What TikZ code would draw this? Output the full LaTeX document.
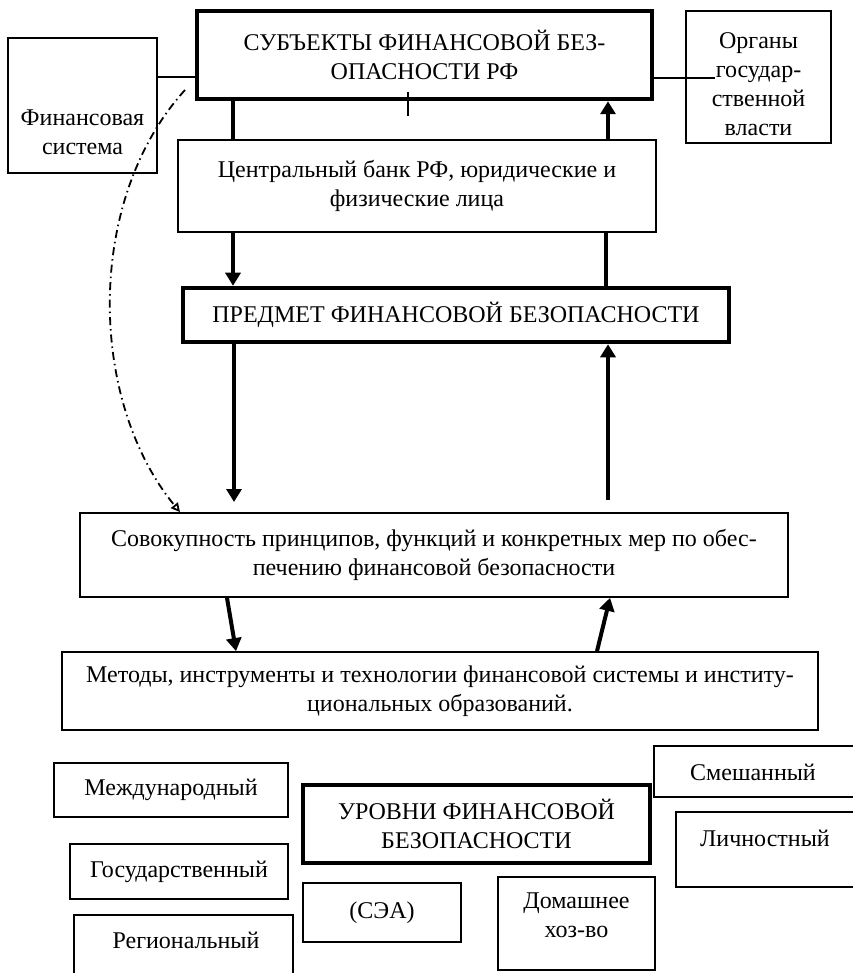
\documentclass[tikz,border=0pt]{standalone}
\usepackage{fontspec}
\setmainfont{Liberation Serif}
\usetikzlibrary{arrows.meta}
\begin{document}
\begin{tikzpicture}[x=1pt,y=-1pt,
  box/.style={draw, line width=1.8pt, inner sep=0pt, align=center, font=\fontsize{24}{29}\selectfont},
  boldbox/.style={box, line width=4.5pt},
  txt/.style={inner sep=0pt, align=center, font=\fontsize{24}{29}\selectfont},
  flow/.style={line width=4pt, -{Triangle[length=13pt,width=15pt]}},
  bar/.style={line width=4pt},
  link/.style={line width=1.5pt},
  loop/.style={line width=1.8pt, dash pattern=on 8pt off 4pt on 1.5pt off 4pt, -{Triangle[open, length=9pt, width=9pt]}}
]
\useasboundingbox (0,0) rectangle (852,973);

% upper chain
\node[boldbox, minimum width=455pt, minimum height=88pt] (subj) at (424.5,55) {СУБЪЕКТЫ ФИНАНСОВОЙ БЕЗ-\\ОПАСНОСТИ РФ};
\node[box, minimum width=149pt, minimum height=135pt] (fin) at (82.5,105.5) {};
\node[txt] (fin-t) at (82.5,132) {Финансовая\\система};
\node[box, minimum width=145pt, minimum height=132pt] (org) at (758.5,77) {};
\node[txt] (org-t) at (758.5,84) {Органы\\государ-\\ственной\\власти};
\node[box, minimum width=478pt, minimum height=92pt] (cb) at (417,186) {Центральный банк РФ, юридические и\\физические лица};
\node[boldbox, minimum width=546pt, minimum height=54pt] (pred) at (456,315) {ПРЕДМЕТ ФИНАНСОВОЙ БЕЗОПАСНОСТИ};
\node[box, minimum width=708pt, minimum height=84pt] (sov) at (434,555) {Совокупность принципов, функций и конкретных мер по обес-\\печению финансовой безопасности};
\node[box, minimum width=756pt, minimum height=78pt] (met) at (440,691) {Методы, инструменты и технологии финансовой системы и институ-\\циональных образований.};

% levels
\node[box, minimum width=234pt, minimum height=54pt] (intl) at (171,790) {Международный};
\node[boldbox, minimum width=347pt, minimum height=78pt] (lev) at (476.5,824) {УРОВНИ ФИНАНСОВОЙ\\БЕЗОПАСНОСТИ};
\node[box, minimum width=216pt, minimum height=51pt] (mix) at (762,771.5) {};
\node[txt] (mix-t) at (753,772) {Смешанный};
\node[box, minimum width=194pt, minimum height=75pt] (pers) at (773,849.5) {};
\node[txt] (pers-t) at (765,838) {Личностный};
\node[box, minimum width=218pt, minimum height=55pt] (state) at (179,871.5) {Государственный};
\node[box, minimum width=219pt, minimum height=75pt] (reg) at (183.5,952.5) {};
\node[txt] (reg-t) at (186,940) {Региональный};
\node[box, minimum width=158pt, minimum height=59pt] (sea) at (382,912.5) {(СЭА)};
\node[box, minimum width=157pt, minimum height=93pt] (home) at (576.5,923.5) {};
\node[txt] (home-t) at (576.5,915) {Домашнее\\хоз-во};

% side links
\draw[link] (fin.east |- 0,77) -- (subj.west |- 0,77);
\coordinate (org-in) at (715,78);
\draw[link] (subj.east |- 0,78) -- (org-in);
\coordinate (tick-a) at (408,92);
\coordinate (tick-b) at (408,116);
\draw[link] (tick-a) -- (tick-b);

% main flows
\draw[bar] (subj.south -| 233,0) -- (cb.north -| 233,0);
\draw[flow] (cb.north -| 608,0) -- (subj.south -| 608,0);
\draw[flow] (cb.south -| 233,0) -- (pred.north -| 233,0);
\draw[bar] (pred.north -| 606,0) -- (cb.south -| 606,0);
\coordinate (gap-l) at (234,502);
\coordinate (gap-r) at (608,500);
\draw[flow] (pred.south -| 234,0) -- (gap-l);
\draw[flow] (gap-r) -- (pred.south -| 608,0);
\draw[flow] (sov.south -| 227,0) -- (met.north -| 236,0);
\draw[flow] (met.north -| 597,0) -- (sov.south -| 610,0);

% dash-dot link from the subjects to the principles
\coordinate (loop-start) at (185,90);
\draw[loop] (loop-start) .. controls (85,200) and (88,400) .. (sov.north -| 180,0);
\end{tikzpicture}
\end{document}
